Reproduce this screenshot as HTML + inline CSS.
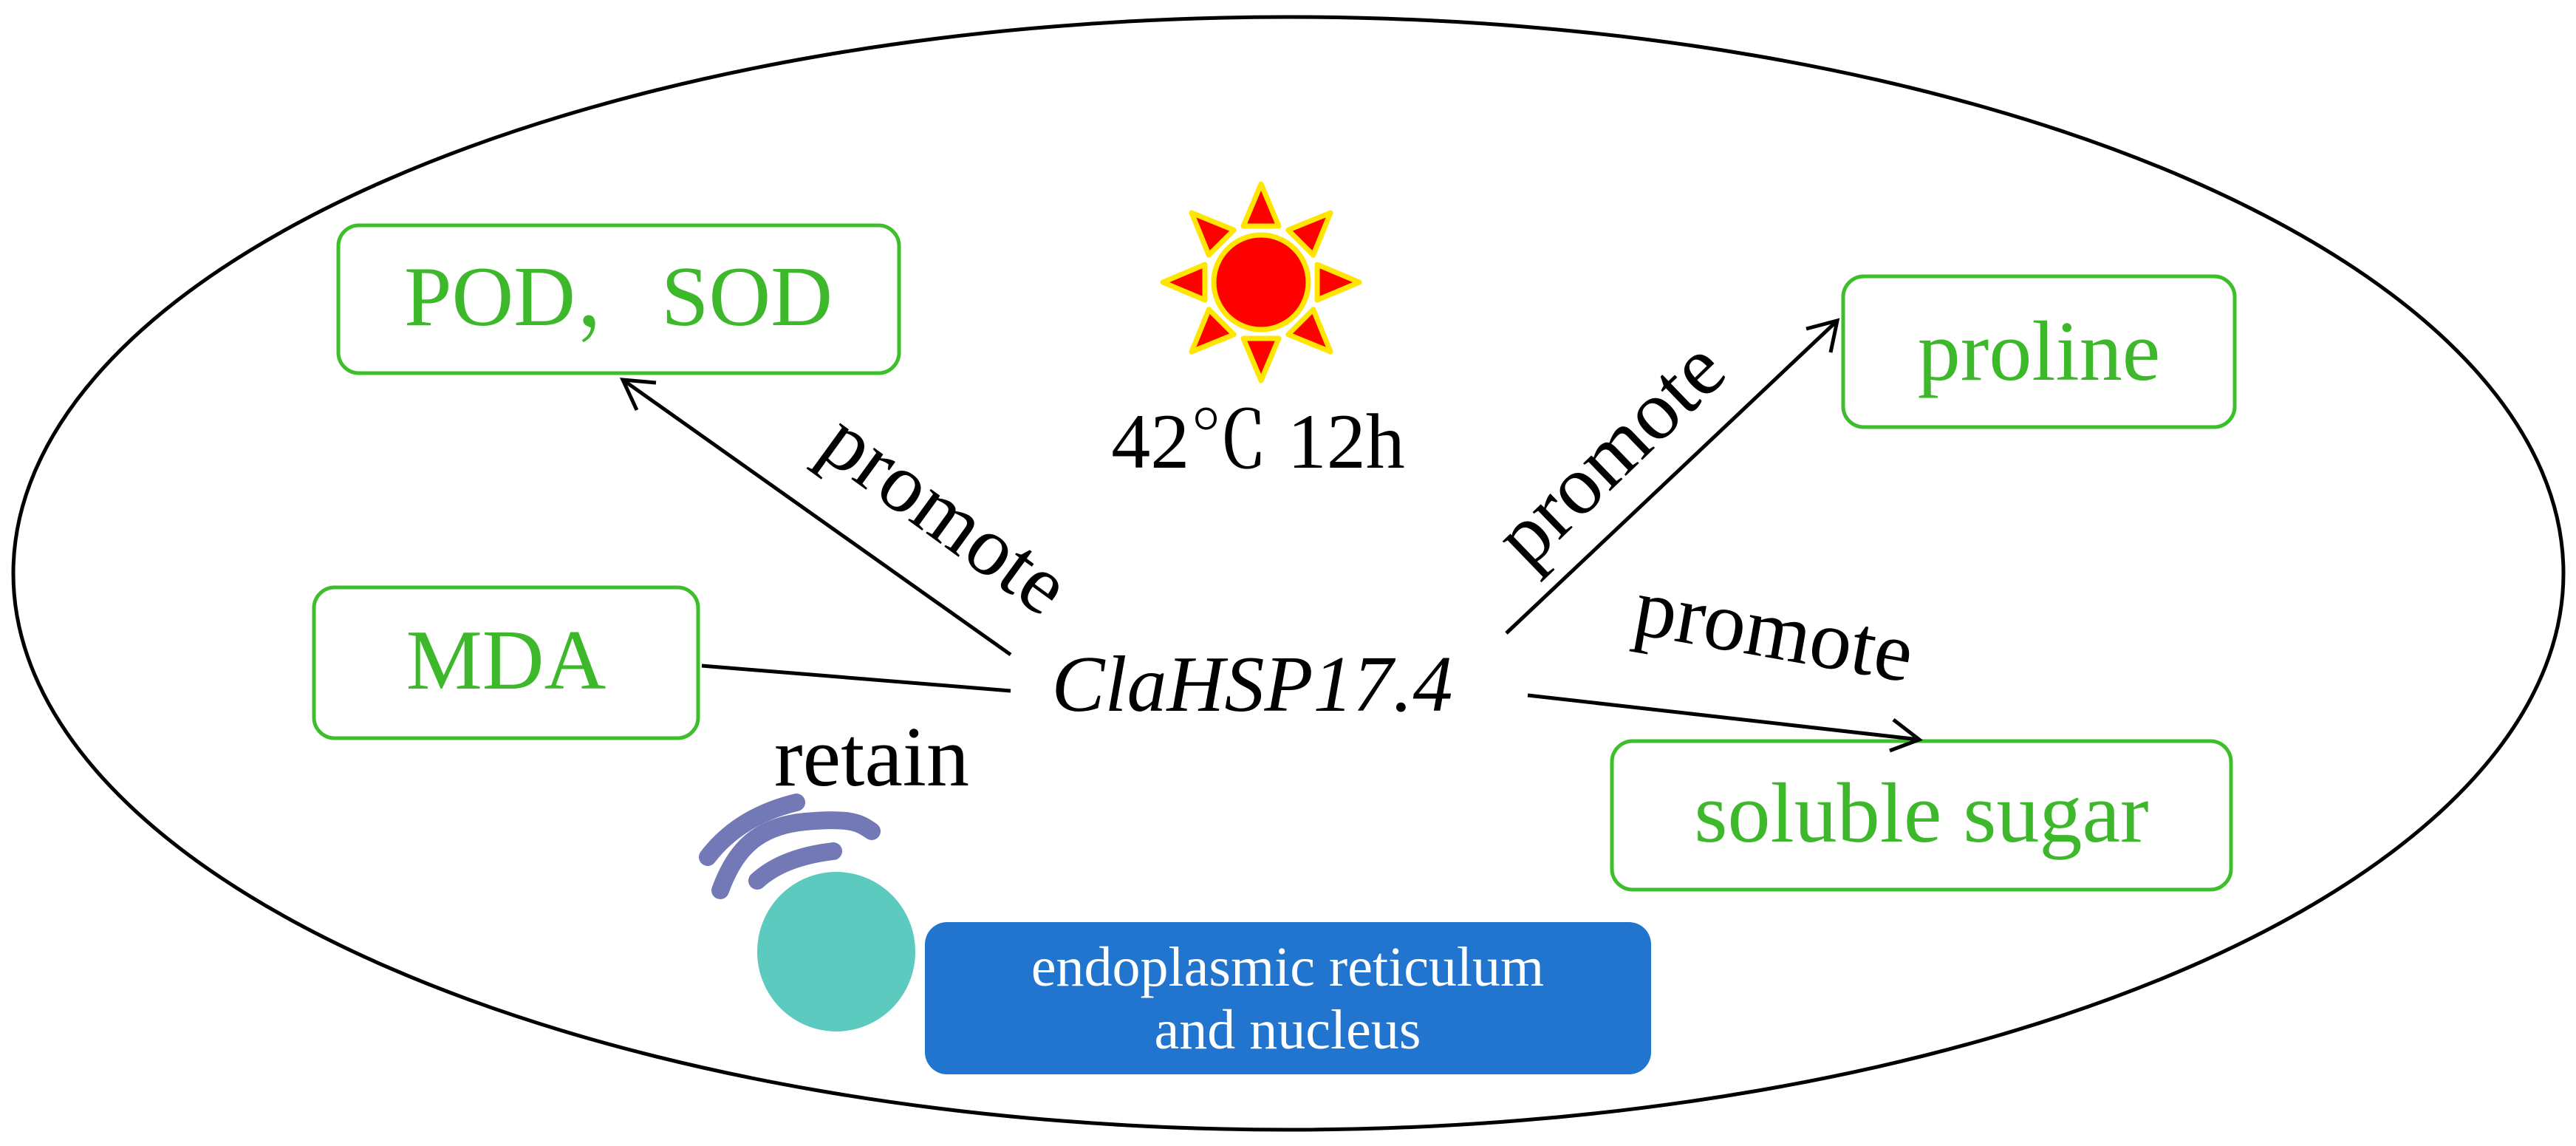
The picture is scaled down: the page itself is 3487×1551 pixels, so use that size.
<!DOCTYPE html>
<html><head><meta charset="utf-8"><style>
html,body{margin:0;padding:0;background:#fff;}
svg{display:block;}
text{font-family:"Liberation Serif","Noto Serif CJK SC",serif;}
</style></head><body>
<svg width="3487" height="1551" viewBox="0 0 3487 1551" xmlns="http://www.w3.org/2000/svg">
<ellipse cx="1744" cy="776" rx="1726" ry="753" fill="#fff" stroke="#000" stroke-width="5"/>
<!-- boxes -->
<g fill="#fff" stroke="#3cbf2a" stroke-width="5">
<rect x="458" y="305" width="759" height="200" rx="28"/>
<rect x="2495" y="374" width="530" height="204" rx="28"/>
<rect x="425" y="795" width="520" height="204" rx="28"/>
<rect x="2182" y="1003" width="838" height="201" rx="28"/>
</g>
<g fill="#3cb82a" font-size="116" text-anchor="middle">
<text x="837" y="440">POD，SOD</text>
<text x="2760" y="514">proline</text>
<text x="685" y="932">MDA</text>
<text x="2601" y="1139">soluble sugar</text>
</g>
<!-- connectors -->
<g stroke="#000" stroke-width="5" fill="none">
<line x1="1368" y1="886" x2="843" y2="514"/>
<polyline points="862,555 843,514 888,518"/>
<line x1="2039" y1="857" x2="2487" y2="434"/>
<polyline points="2445,445 2487,434 2478,477"/>
<line x1="2068" y1="941" x2="2598" y2="1001"/>
<polyline points="2563,974 2598,1001 2558,1016"/>
<line x1="950" y1="901" x2="1368" y2="935"/>
</g>
<!-- labels -->
<g fill="#000" font-size="114" text-anchor="middle">
<text transform="translate(1258,725) rotate(36)">promote</text>
<text transform="translate(2205,640) rotate(-44)">promote</text>
<text transform="translate(2395,890) rotate(10)">promote</text>
<text x="1180" y="1063" font-size="116">retain</text>
<text x="1703" y="633" font-size="106">42℃ 12h</text>
<text x="1695" y="962" font-size="108" font-style="italic">ClaHSP17.4</text>
</g>
<!-- sun -->
<g transform="translate(1707,382)" fill="#f00" stroke="#ffe600" stroke-width="7" stroke-linejoin="round">
<g id="ray"><polygon points="-24,-76 24,-76 0,-133"/></g>
<use href="#ray" transform="rotate(45)"/>
<use href="#ray" transform="rotate(90)"/>
<use href="#ray" transform="rotate(135)"/>
<use href="#ray" transform="rotate(180)"/>
<use href="#ray" transform="rotate(225)"/>
<use href="#ray" transform="rotate(270)"/>
<use href="#ray" transform="rotate(315)"/>
<circle r="64"/>
</g>
<!-- ER arcs -->
<g stroke="#7379b6" stroke-width="24" fill="none" stroke-linecap="round">
<path d="M958,1160 Q1000,1105 1078,1086"/>
<path d="M975,1205 C995,1150 1025,1118 1090,1112 S1165,1115 1180,1125"/>
<path d="M1025,1192 Q1060,1160 1128,1152"/>
</g>
<ellipse cx="1132" cy="1288" rx="107" ry="108" fill="#5ccabe"/>
<rect x="1252" y="1248" width="983" height="206" rx="30" fill="#2175cf"/>
<g fill="#fff" font-size="76" text-anchor="middle">
<text x="1743" y="1334">endoplasmic reticulum</text>
<text x="1743" y="1419">and nucleus</text>
</g>
</svg>
</body></html>
